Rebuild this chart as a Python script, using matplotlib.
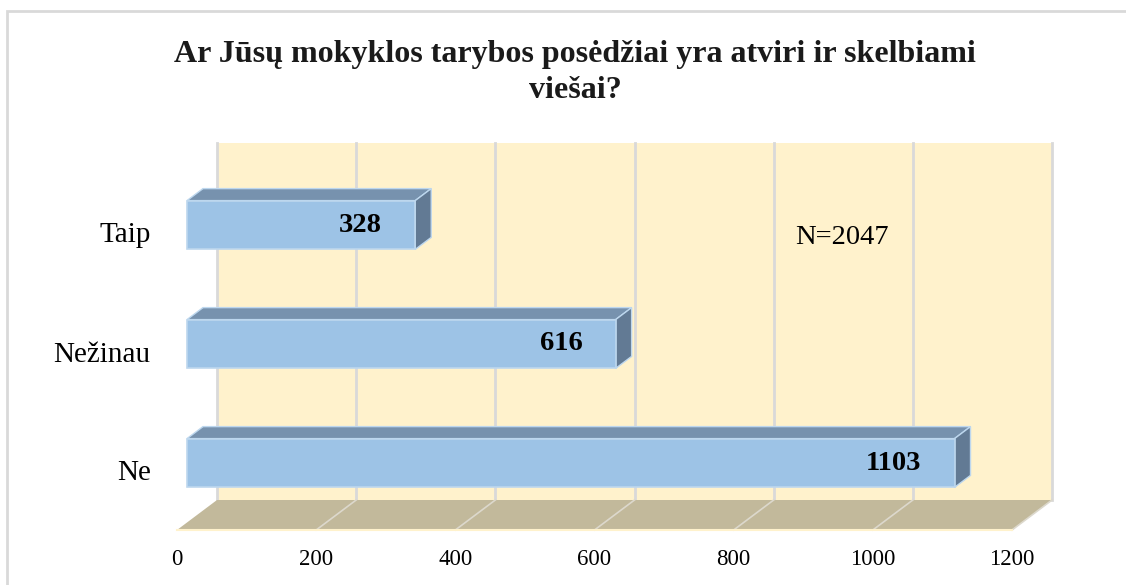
import matplotlib
matplotlib.use("Agg")
import matplotlib.pyplot as plt
from matplotlib.patches import Polygon, Rectangle

# ---- data ----
categories = ["Ne", "Nežinau", "Taip"]          # bottom to top
values = [1103, 616, 328]
x_ticks = [0, 200, 400, 600, 800, 1000, 1200]
title = "Ar Jūsų mokyklos tarybos posėdžiai yra atviri ir skelbiami\nviešai?"
note = "N=2047"

# ---- style ----
SERIF = ["Liberation Serif", "DejaVu Serif"]
WALL = "#FFF2CC"
FLOOR = "#C2B99B"
GRID = "#D9D9D9"
FRONT = "#9DC3E6"
TOP = "#7792AE"
SIDE = "#627A94"
EDGE = "#BDD7EE"

W, H = 1126, 585
fig = plt.figure(figsize=(W / 100, H / 100), dpi=100)
fig.patch.set_facecolor("white")

# front plane of the 3D box
left_px, right_px, top_px, bot_px = 177, 1012, 173, 530
ax = fig.add_axes([left_px / W, (H - bot_px) / H,
                   (right_px - left_px) / W, (bot_px - top_px) / H])
ax.set_xlim(0, 1200)
ax.set_ylim(0, len(categories))
ax.set_facecolor("none")
for s in ax.spines.values():
    s.set_visible(False)

px_per_x = (right_px - left_px) / 1200.0
px_per_y = (bot_px - top_px) / len(categories)
DX = 40 / px_per_x      # full depth offset in value units
DY = 30 / px_per_y      # full depth offset in category units


def P(x, y, d):
    return (x + d * DX, y + d * DY)


def poly(pts, color, z, ec="none", lw=0):
    ax.add_patch(Polygon(pts, closed=True, facecolor=color, edgecolor=ec,
                         linewidth=lw, zorder=z, clip_on=False,
                         joinstyle="miter"))


n = len(categories)
# back wall
poly([P(0, 0, 1), P(1200, 0, 1), P(1200, n, 1), P(0, n, 1)], WALL, 1)
# floor
poly([P(0, 0, 0), P(1200, 0, 0), P(1200, 0, 1), P(0, 0, 1)], FLOOR, 2)
ax.plot([0, 1200], [0, 0], color="#FFF2CC", lw=1.5, zorder=2.5, clip_on=False)
# gridlines
for v in x_ticks:
    x0, y0 = P(v, 0, 1)
    x1, y1 = P(v, n, 1)
    ax.plot([x0, x1], [y0, y1], color=GRID, lw=2, zorder=1.5, clip_on=False)
    if v > 0:
        fx, fy = P(v, 0, 0)
        ax.plot([fx, x0], [fy, y0], color="#DCD8CC", lw=1.2, zorder=2.2,
                clip_on=False)

# bars
d0, d1 = 0.25, 0.65
h = 0.205
for i, (cat, v) in enumerate(zip(categories, values)):
    c = i + 0.5
    y_lo, y_hi = c - h, c + h
    # top face
    poly([P(0, y_hi, d0), P(v, y_hi, d0), P(v, y_hi, d1), P(0, y_hi, d1)],
         TOP, 5, EDGE, 1.0)
    # right side
    poly([P(v, y_lo, d0), P(v, y_hi, d0), P(v, y_hi, d1), P(v, y_lo, d1)],
         SIDE, 5, EDGE, 1.0)
    # front face
    poly([P(0, y_lo, d0), P(v, y_lo, d0), P(v, y_hi, d0), P(0, y_hi, d0)],
         FRONT, 6, EDGE, 1.2)
    lx, ly = P(v, c, d0)
    ax.annotate(str(v), (lx, ly), xytext=(-33, 0), textcoords="offset pixels",
                ha="right", va="center", fontsize=20.5, fontweight="bold",
                family=SERIF, color="black", zorder=7)

# axes ticks
ax.set_xticks(x_ticks)
ax.set_xticklabels([str(t) for t in x_ticks], family=SERIF, fontsize=16.5)
ax.set_yticks([i + 0.5 for i in range(n)])
ax.set_yticklabels(categories, family=SERIF, fontsize=21)
ax.tick_params(axis="x", length=0, pad=14)
ax.tick_params(axis="y", length=0, pad=19)

# note
fig.text(842 / W, 1 - 237 / H, note, ha="center", va="center",
         fontsize=20.5, family=SERIF, color="black")

# title
fig.text(575 / W, 1 - 40 / H, title, ha="center", va="top",
         fontsize=23, fontweight="bold", family=SERIF, color="#1a1a1a",
         linespacing=1.3)

# chart border
fig.add_artist(Rectangle((7.5 / W, -0.05), 1.2, 1 - 10.5 / H + 0.05,
                         transform=fig.transFigure, facecolor="none",
                         edgecolor=GRID, linewidth=2, clip_on=False))

fig.savefig("out.png", dpi=100)
